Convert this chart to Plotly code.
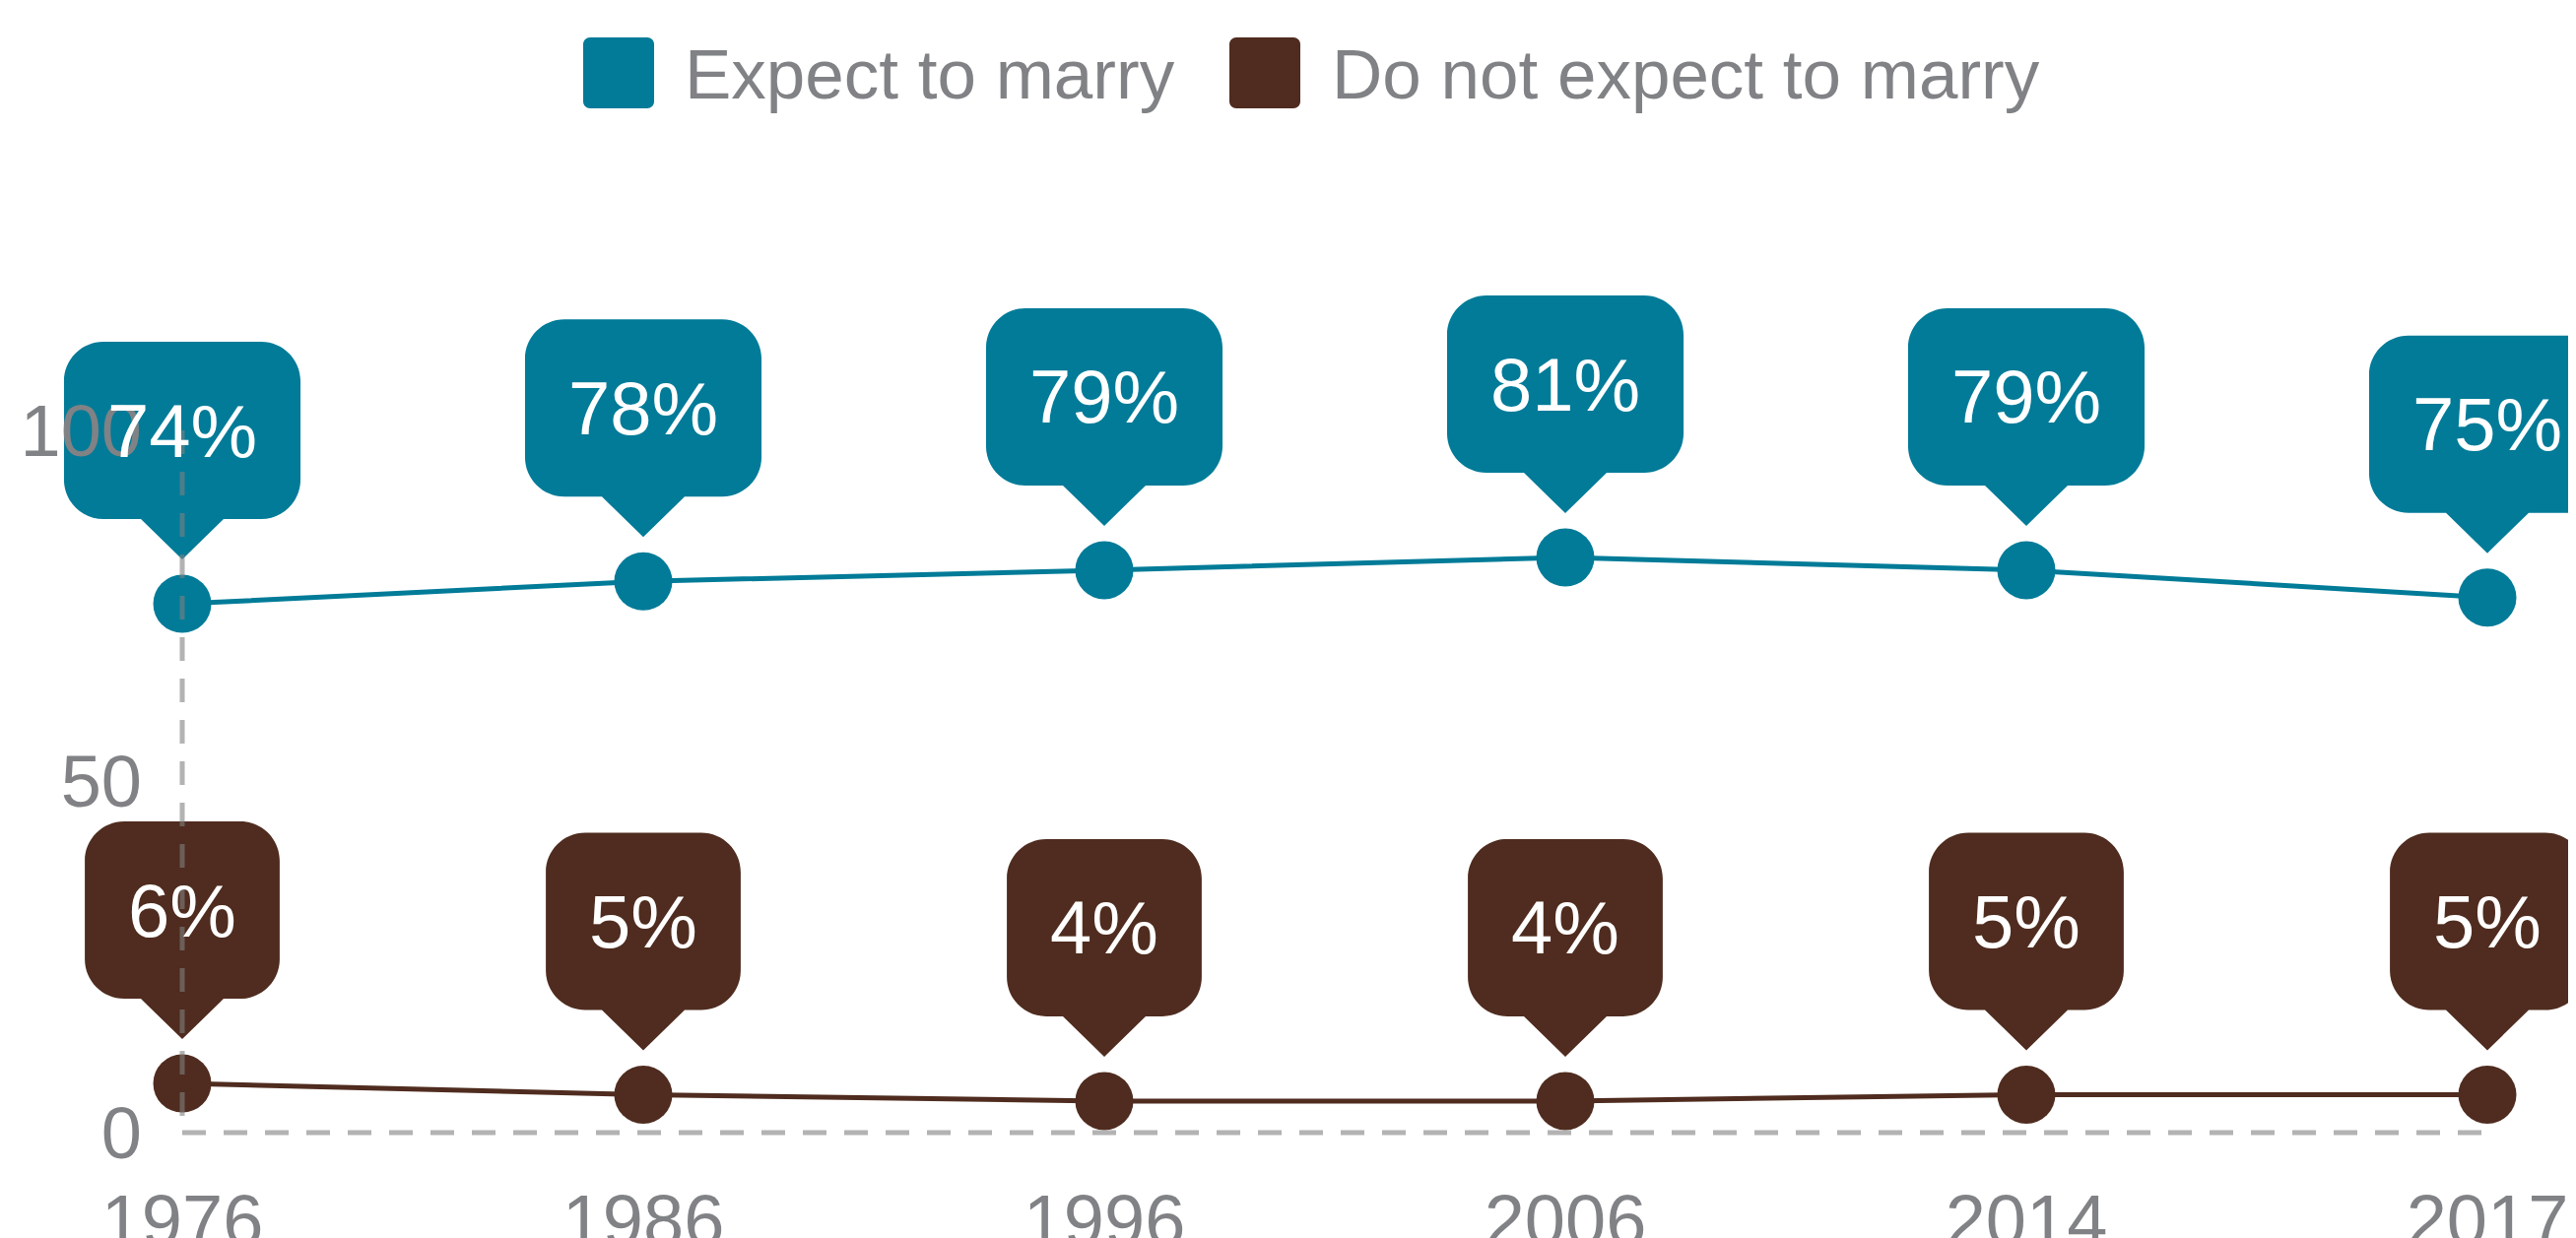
import plotly.graph_objects as go

# ---------------- data ----------------
years = ["1976", "1986", "1996", "2006", "2014", "2017"]
series_names = ["Expect to marry", "Do not expect to marry"]
expect_vals = [75.3, 78.5, 80.1, 81.9, 80.1, 76.2]
not_expect_vals = [7.0, 5.4, 4.5, 4.5, 5.4, 5.4]
expect_labels = ["74%", "78%", "79%", "81%", "79%", "75%"]
not_expect_labels = ["6%", "5%", "4%", "4%", "5%", "5%"]
y_ticks = [0, 50, 100]

# ---------------- layout geometry (figure pixels) ----------------
OFF = 8                      # page body margin
W, H = 2615 - OFF, 1257 - OFF
X0, X1 = 185 - OFF, 2525 - OFF   # first / last category
Y1, Y0 = 437 - OFF, 1150 - OFF   # value 100 / value 0
YMIN, YMAX = 0, 100

colors = ["#017b98", "#4f2c1f"]
grey = "#808285"
axis_col = "rgba(128,128,128,0.6)"
FONT = "Liberation Sans, Arial, sans-serif"
LABEL_SIZE = 76
TICK_SIZE = 74
K = 0.5523  # circle approximation for cubic bezier corners


def corner(x_from, y_from, cx, cy, x_to, y_to):
    c1x = x_from + (cx - x_from) * K
    c1y = y_from + (cy - y_from) * K
    c2x = x_to + (cx - x_to) * K
    c2y = y_to + (cy - y_to) * K
    return f"C {c1x:.2f},{c1y:.2f} {c2x:.2f},{c2y:.2f} {x_to},{y_to} "


def bubble_path(w, yb=86, yt=266, r=40, tip=45, half=42):
    xl, xr = -w / 2, w / 2
    return (f"M {xl + r},{yt} L {xr - r},{yt} " + corner(xr - r, yt, xr, yt, xr, yt - r) +
            f"L {xr},{yb + r} " + corner(xr, yb + r, xr, yb, xr - r, yb) +
            f"L {half},{yb} L 0,{tip} L {-half},{yb} L {xl + r},{yb} " +
            corner(xl + r, yb, xl, yb, xl, yb + r) +
            f"L {xl},{yt - r} " + corner(xl, yt - r, xl, yt, xl + r, yt) + "Z")


def rrect_path(w, h, r):
    xl, xr, yb, yt = -w / 2, w / 2, -h / 2, h / 2
    return (f"M {xl + r},{yt} L {xr - r},{yt} " + corner(xr - r, yt, xr, yt, xr, yt - r) +
            f"L {xr},{yb + r} " + corner(xr, yb + r, xr, yb, xr - r, yb) +
            f"L {xl + r},{yb} " + corner(xl + r, yb, xl, yb, xl, yb + r) +
            f"L {xl},{yt - r} " + corner(xl, yt - r, xl, yt, xl + r, yt) + "Z")


def text_w(s):
    return sum(0.889 if ch == "%" else 0.556 for ch in s) * LABEL_SIZE


n = len(years)
unit_x = (X1 - X0) / (n - 1)
unit_y = (Y0 - Y1) / (YMAX - YMIN)

fig = go.Figure()
shapes = []
annotations = []

for vals, labels, name, col in [
    (expect_vals, expect_labels, series_names[0], colors[0]),
    (not_expect_vals, not_expect_labels, series_names[1], colors[1]),
]:
    # real data trace on the visible axes (x2/y2)
    fig.add_trace(go.Scatter(
        x=years, y=vals, name=name, mode="lines+markers",
        line=dict(color=col, width=5),
        marker=dict(color=col, size=59, line=dict(width=0)),
        cliponaxis=False, showlegend=False, hoverinfo="skip",
        xaxis="x2", yaxis="y2",
    ))
    # callouts on the full-figure helper axes (x/y), drawn below everything else
    for i, (yv, lab) in enumerate(zip(vals, labels)):
        shapes.append(dict(
            type="path", xref="x", yref="y", xsizemode="pixel", ysizemode="pixel",
            xanchor=i, yanchor=yv, path=bubble_path(text_w(lab) + 88),
            fillcolor=col, line=dict(width=0), layer="below",
        ))
        annotations.append(dict(
            x=i, y=yv, xref="x", yref="y", text=lab, showarrow=False,
            yshift=176, font=dict(family=FONT, size=LABEL_SIZE, color="white"),
        ))

# dashed axis lines (drawn over bubbles and markers)
dash = dict(color=axis_col, width=5, dash="24px,18px")
shapes.append(dict(type="line", xref="x", yref="y", x0=0, x1=0,
                   y0=YMAX, y1=YMIN, line=dash, layer="above"))
shapes.append(dict(type="line", xref="x", yref="y", x0=0, x1=n - 1,
                   y0=YMIN, y1=YMIN, line=dash, layer="above"))

# custom legend (paper == whole figure, margins are 0)
legend_items = [(628, 693), (1284, 1350)]
for (sx, tx), name, col in zip(legend_items, series_names, colors):
    shapes.append(dict(type="path", xref="paper", yref="paper", xsizemode="pixel",
                       ysizemode="pixel", xanchor=(sx - OFF) / W, yanchor=1 - (74 - OFF) / H,
                       path=rrect_path(72, 72, 7), fillcolor=col, line=dict(width=0)))
    annotations.append(dict(x=(tx - OFF) / W, y=1 - (75 - OFF) / H, xref="paper", yref="paper",
                            xanchor="left", yanchor="middle", text=name, showarrow=False,
                            font=dict(family=FONT, size=71, color=grey)))

fig.update_layout(
    width=W, height=H,
    margin=dict(l=0, r=0, t=0, b=0, pad=0),
    paper_bgcolor="white", plot_bgcolor="rgba(0,0,0,0)",
    showlegend=False,
    shapes=shapes, annotations=annotations,
    font=dict(family=FONT, color=grey),
    # full-figure helper axes so the callouts are not clipped to the plot area
    xaxis=dict(domain=[0, 1], anchor="y", type="linear",
               range=[-X0 / unit_x, (n - 1) + (W - X1) / unit_x],
               visible=False, fixedrange=True),
    yaxis=dict(domain=[0, 1], anchor="x",
               range=[YMIN - (H - Y0) / unit_y, YMAX + Y1 / unit_y],
               visible=False, fixedrange=True),
    # visible axes
    xaxis2=dict(type="category", categoryorder="array", categoryarray=years,
                domain=[X0 / W, X1 / W], anchor="y2",
                range=[0, n - 1], showgrid=False, zeroline=False,
                showline=False, ticks="", tickfont=dict(size=TICK_SIZE, color=grey),
                ticklabelstandoff=40, automargin=False, fixedrange=True),
    yaxis2=dict(range=[YMIN, YMAX], tickvals=y_ticks, domain=[1 - Y0 / H, 1 - Y1 / H],
                anchor="x2", showgrid=False, zeroline=False,
                showline=False, ticks="", tickfont=dict(size=TICK_SIZE, color=grey),
                ticklabelstandoff=40, automargin=False, fixedrange=True),
)

fig.write_html("out.html", config={"displayModeBar": False})
